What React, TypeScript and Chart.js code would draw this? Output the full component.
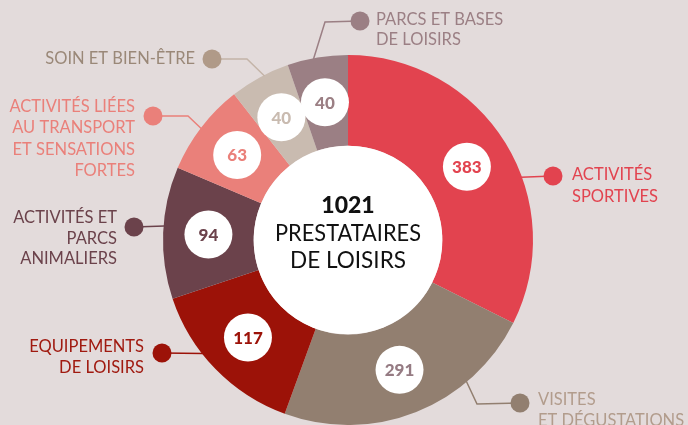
import React, { useEffect, useRef } from "react";
import { Chart, registerables } from "chart.js";

Chart.register(...registerables);

// ---- data ----
const categories = [
  "ACTIVITÉS SPORTIVES",
  "VISITES ET DÉGUSTATIONS",
  "EQUIPEMENTS DE LOISIRS",
  "ACTIVITÉS ET PARCS ANIMALIERS",
  "ACTIVITÉS LIÉES AU TRANSPORT ET SENSATIONS FORTES",
  "SOIN ET BIEN-ÊTRE",
  "PARCS ET BASES DE LOISIRS",
];
const labelLines = [
  ["ACTIVITÉS", "SPORTIVES"],
  ["VISITES", "ET DÉGUSTATIONS"],
  ["EQUIPEMENTS", "DE LOISIRS"],
  ["ACTIVITÉS ET", "PARCS", "ANIMALIERS"],
  ["ACTIVITÉS LIÉES", "AU TRANSPORT", "ET SENSATIONS", "FORTES"],
  ["SOIN ET BIEN-ÊTRE"],
  ["PARCS ET BASES", "DE LOISIRS"],
];
const values = [383, 291, 117, 94, 63, 40, 40];
// slice sizes as drawn in the infographic (degrees)
const sliceDegrees = [116.7, 83.3, 51.5, 41.5, 29, 19, 19];
const totalValue = 1021;
const centerLines = ["PRESTATAIRES", "DE LOISIRS"];

// ---- styles ----
const BG = "#e3dbdb";
const segColors = ["#e2434f", "#927f70", "#9c1208", "#6b424b", "#ea807a", "#c9bbb0", "#9b7f84"];
const numColors = ["#e2434f", "#957b83", "#9c1208", "#6b424b", "#ea807a", "#c9bbb0", "#9b7f84"];
const textColors = ["#e2434f", "#b29c8c", "#a01a10", "#6b424b", "#ea807a", "#9a8878", "#9b7f84"];
const dotColors = ["#e2434f", "#927f70", "#9c1208", "#6b424b", "#ea807a", "#b09a88", "#9b7f84"];
const lineColors = ["#e2434f", "#927f70", "#9c1208", "#6b424b", "#ea807a", "#c4b4a8", "#9b7f84"];

// callout layout: fraction along arc where line starts, elbow points, dot, text anchor
type Callout = { frac: number; elbows: [number, number][]; dot: [number, number]; textX: number; lineYs: number[]; align: CanvasTextAlign };
const callouts: Callout[] = [
  { frac: 0.6, elbows: [], dot: [553, 176], textX: 572, lineYs: [175, 197], align: "left" },
  { frac: 0.28, elbows: [[477, 404]], dot: [520, 403], textX: 538, lineYs: [400, 421], align: "left" },
  { frac: 0.62, elbows: [], dot: [162, 353], textX: 144, lineYs: [347, 368], align: "right" },
  { frac: 0.55, elbows: [], dot: [134, 227], textX: 117, lineYs: [218, 239, 259], align: "right" },
  { frac: 0.49, elbows: [[188, 116]], dot: [153, 116], textX: 135, lineYs: [107, 128, 150, 171], align: "right" },
  { frac: 0.58, elbows: [[247, 59]], dot: [212, 59], textX: 195, lineYs: [59], align: "right" },
  { frac: 0.43, elbows: [[325, 22]], dot: [360, 21], textX: 376, lineYs: [20, 40], align: "left" },
];

const FONT = "Lato, 'Open Sans', sans-serif";

const overlayPlugin = {
  id: "overlay",
  afterDatasetsDraw(chart: any) {
    const ctx: CanvasRenderingContext2D = chart.ctx;
    const meta = chart.getDatasetMeta(0);
    const a0 = meta.data[0];
    const { x: cx, y: cy, innerRadius, outerRadius } = a0.getProps(["x", "y", "innerRadius", "outerRadius"], true);
    ctx.save();
    // center disc
    ctx.fillStyle = "#ffffff";
    ctx.beginPath();
    ctx.arc(cx, cy, innerRadius, 0, Math.PI * 2);
    ctx.fill();

    ctx.textAlign = "center";
    ctx.textBaseline = "middle";
    ctx.fillStyle = "#111111";
    ctx.font = `900 23px ${FONT}`;
    ctx.fillText(String(totalValue), cx, cy - 34);
    ctx.font = `400 23px ${FONT}`;
    ctx.fillText(centerLines[0], cx, cy - 6.5, 146);
    ctx.fillText(centerLines[1], cx, cy + 21, 116);

    // callouts
    meta.data.forEach((arc: any, i: number) => {
      const p = arc.getProps(["startAngle", "endAngle"], true);
      const c = callouts[i];
      const ang = p.startAngle + c.frac * (p.endAngle - p.startAngle);
      const sx = cx + Math.cos(ang) * (outerRadius - 1);
      const sy = cy + Math.sin(ang) * (outerRadius - 1);
      ctx.strokeStyle = lineColors[i];
      ctx.lineWidth = 1.5;
      ctx.beginPath();
      ctx.moveTo(sx, sy);
      c.elbows.forEach(([ex, ey]) => ctx.lineTo(ex, ey));
      ctx.lineTo(c.dot[0], c.dot[1]);
      ctx.stroke();
      ctx.fillStyle = dotColors[i];
      ctx.beginPath();
      ctx.arc(c.dot[0], c.dot[1], 9.5, 0, Math.PI * 2);
      ctx.fill();
      ctx.fillStyle = textColors[i];
      ctx.font = `400 16.5px ${FONT}`;
      ctx.textAlign = c.align;
      ctx.textBaseline = "middle";
      labelLines[i].forEach((ln, k) => ctx.fillText(ln, c.textX, c.lineYs[k]));
    });

    // value bubbles
    meta.data.forEach((arc: any, i: number) => {
      const pos = arc.tooltipPosition(true);
      ctx.fillStyle = "#ffffff";
      ctx.beginPath();
      ctx.arc(pos.x, pos.y, 24, 0, Math.PI * 2);
      ctx.fill();
      ctx.fillStyle = numColors[i];
      ctx.font = `900 17px ${FONT}`;
      ctx.textAlign = "center";
      ctx.textBaseline = "middle";
      ctx.fillText(String(values[i]), pos.x, pos.y + 1);
    });
    ctx.restore();
  },
};

export default function App() {
  const ref = useRef<HTMLCanvasElement | null>(null);
  useEffect(() => {
    document.body.style.margin = "0";
    document.body.style.background = BG;
    const chart = new Chart(ref.current as HTMLCanvasElement, {
      type: "doughnut",
      data: {
        labels: categories,
        datasets: [
          {
            data: sliceDegrees,
            backgroundColor: segColors,
            borderWidth: 0,
            hoverOffset: 0,
          },
        ],
      },
      options: {
        responsive: false,
        animation: false,
        cutout: "51%",
        rotation: 0,
        layout: { padding: { left: 163, right: 155, top: 55, bottom: 0 } },
        plugins: { legend: { display: false }, tooltip: { enabled: false } },
        events: [],
      },
      plugins: [overlayPlugin],
    });
    return () => chart.destroy();
  }, []);
  return (
    <div style={{ width: 688, height: 425, background: BG, overflow: "hidden" }}>
      <canvas ref={ref} width={688} height={425} style={{ display: "block" }} />
    </div>
  );
}
